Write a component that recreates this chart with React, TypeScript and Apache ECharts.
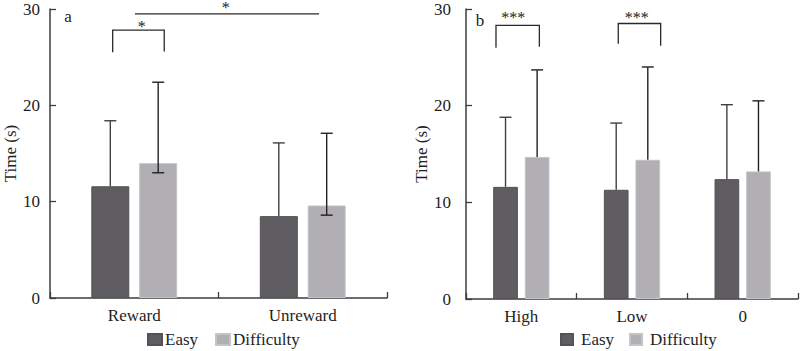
import React, { useEffect, useRef } from 'react';
import * as echarts from 'echarts';

// ---- data ----
const categoriesA = ['Reward', 'Unreward'];
const easyA = [11.6, 8.5];
const difficultyA = [14.0, 9.6];
const easyAHigh = [18.4, 16.1];
const difficultyAHigh = [22.4, 17.1];
const difficultyALow = [13.0, 8.6];

const categoriesB = ['High', 'Low', '0'];
const easyB = [11.6, 11.3, 12.4];
const difficultyB = [14.7, 14.4, 13.2];
const easyBHigh = [18.8, 18.2, 20.1];
const difficultyBHigh = [23.7, 24.0, 20.5];

const yMin = 0;
const yMax = 30;
const yInterval = 10;
const legendNames = ['Easy', 'Difficulty'];
const yAxisName = 'Time (s)';

// significance annotations: category index + fraction of band, values on y scale
const bracketsA = [{ cat: 0, from: -0.128, toCat: 0, to: 0.178, top: 27.8, legL: 25.5, legR: 25.6 }];
const barLinesA = [{ cat: 0, from: 0.004, toCat: 1, to: 0.097, top: 29.5 }];
const starsA = [
  { cat: 0, frac: 0.044, y: 28.2, text: '*' },
  { cat: 0, frac: 0.543, y: 30.2, text: '*' },
];
const bracketsB = [
  { cat: 0, from: -0.229, toCat: 0, to: 0.163, top: 28.3, legL: 26.0, legR: 26.1 },
  { cat: 1, from: -0.124, toCat: 1, to: 0.259, top: 28.5, legL: 26.4, legR: 26.2 },
];
const starsB = [
  { cat: 0, frac: -0.072, y: 29.1, text: '***' },
  { cat: 1, frac: 0.042, y: 29.1, text: '***' },
];

const FONT = "'Liberation Serif', serif";
const EASY = '#5f5d61';
const DIFF = '#b1afb4';
const AXIS = '#3c3c3c';
const TEXT = '#1e1e1e';

const BW_A = 0.2255;
const GAP_A = 0.26;
const BW_B = 0.223;
const GAP_B = 0.28;

function errorSeries(
  grid: number,
  means: number[],
  highs: number[],
  lows: number[] | null,
  side: number,
  bw: number,
  gap: number,
  color: string
) {
  return {
    type: 'custom',
    name: 'err' + grid + side,
    xAxisIndex: grid,
    yAxisIndex: grid,
    z: 10,
    silent: true,
    data: means.map((m, i) => [i, lows ? lows[i] : m, highs[i], lows ? 1 : 0]),
    encode: { x: 0, y: [1, 2] },
    renderItem: (_p: any, api: any) => {
      const c = api.value(0);
      const lo = api.coord([c, api.value(1)]);
      const hi = api.coord([c, api.value(2)]);
      const band = api.size([1, 0])[0];
      const x = lo[0] + (side * band * bw * (1 + gap)) / 2;
      const cap = 6;
      const st = { stroke: color, lineWidth: 1.4 };
      const children: any[] = [
        { type: 'line', shape: { x1: x, y1: lo[1], x2: x, y2: hi[1] }, style: st },
        { type: 'line', shape: { x1: x - cap, y1: hi[1], x2: x + cap, y2: hi[1] }, style: st },
      ];
      if (api.value(3)) {
        children.push({ type: 'line', shape: { x1: x - cap, y1: lo[1], x2: x + cap, y2: lo[1] }, style: st });
      }
      return { type: 'group', children };
    },
  };
}

function barSeries(grid: number, name: string, values: number[], color: string, border: string, bw: number, gap: number) {
  return {
    type: 'bar',
    name,
    xAxisIndex: grid,
    yAxisIndex: grid,
    data: values,
    barWidth: (bw * 100).toFixed(2) + '%',
    barGap: (gap * 100).toFixed(0) + '%',
    itemStyle: { color, borderColor: border, borderWidth: 1 },
  };
}

function xAxis(grid: number, cats: string[]) {
  return {
    type: 'category',
    gridIndex: grid,
    data: cats,
    axisLine: { lineStyle: { color: AXIS, width: 1.5 } },
    axisTick: { show: true, inside: true, length: 6, interval: 0, lineStyle: { color: AXIS, width: 1.3 } },
    axisLabel: { color: TEXT, fontFamily: FONT, fontSize: 17, margin: 9, interval: 0 },
  };
}

function yAxis(grid: number, labelMargin: number, nameGap: number) {
  return {
    type: 'value',
    gridIndex: grid,
    min: yMin,
    max: yMax,
    interval: yInterval,
    name: yAxisName,
    nameLocation: 'middle',
    nameGap,
    nameTextStyle: { color: TEXT, fontFamily: FONT, fontSize: 17 },
    splitLine: { show: false },
    axisLine: { show: true, lineStyle: { color: AXIS, width: 1.5 } },
    axisTick: { show: true, inside: true, length: 6, lineStyle: { color: AXIS, width: 1.3 } },
    axisLabel: { color: TEXT, fontFamily: FONT, fontSize: 17, margin: labelMargin },
  };
}

export default function App() {
  const ref = useRef<HTMLDivElement>(null);
  useEffect(() => {
    if (!ref.current) return;
    const chart = echarts.init(ref.current, undefined, { renderer: 'svg' });
    chart.setOption({
      animation: false,
      backgroundColor: '#ffffff',
      textStyle: { fontFamily: FONT },
      grid: [
        { left: 50, right: 413, top: 9, bottom: 53 },
        { left: 466, right: 2, top: 9, bottom: 52 },
      ],
      xAxis: [xAxis(0, categoriesA), xAxis(1, categoriesB)],
      yAxis: [yAxis(0, 10, 30), yAxis(1, 15, 33)],
      legend: [
        {
          data: legendNames,
          left: 147,
          top: 331,
          padding: 0,
          icon: 'rect',
          itemWidth: 14,
          itemHeight: 11,
          itemGap: 17,
          selectedMode: false,
          textStyle: { color: TEXT, fontFamily: FONT, fontSize: 17, padding: [0, 0, 0, -2] },
        },
        {
          data: legendNames,
          left: 560,
          top: 331,
          padding: 0,
          icon: 'rect',
          itemWidth: 12,
          itemHeight: 11,
          itemGap: 15,
          selectedMode: false,
          textStyle: { color: TEXT, fontFamily: FONT, fontSize: 17, padding: [0, 0, 0, 3] },
        },
      ],
      series: [
        barSeries(0, 'Easy', easyA, EASY, '#545256', BW_A, GAP_A),
        barSeries(0, 'Difficulty', difficultyA, DIFF, '#c4c3c7', BW_A, GAP_A),
        barSeries(1, 'Easy', easyB, EASY, '#545256', BW_B, GAP_B),
        barSeries(1, 'Difficulty', difficultyB, DIFF, '#c4c3c7', BW_B, GAP_B),
        errorSeries(0, easyA, easyAHigh, null, -1, BW_A, GAP_A, '#404040'),
        errorSeries(0, difficultyA, difficultyAHigh, difficultyALow, 1, BW_A, GAP_A, '#222222'),
        errorSeries(1, easyB, easyBHigh, null, -1, BW_B, GAP_B, '#404040'),
        errorSeries(1, difficultyB, difficultyBHigh, null, 1, BW_B, GAP_B, '#222222'),
      ],
    });

    const toPx = (g: number, cat: number, frac: number, val: number) => {
      const p0 = chart.convertToPixel({ gridIndex: g } as any, [0, val]) as number[];
      const p1 = chart.convertToPixel({ gridIndex: g } as any, [1, val]) as number[];
      const band = p1[0] - p0[0];
      return [p0[0] + (cat + frac) * band, p0[1]];
    };
    const lineStyle = { stroke: '#2a2a2a', lineWidth: 1.3, fill: 'none' };
    const graphics: any[] = [];
    const addBrackets = (g: number, list: any[]) => {
      list.forEach((b) => {
        const tl = toPx(g, b.cat, b.from, b.top);
        const tr = toPx(g, b.toCat, b.to, b.top);
        const bl = toPx(g, b.cat, b.from, b.legL);
        const br = toPx(g, b.toCat, b.to, b.legR);
        graphics.push({
          type: 'polyline',
          shape: { points: [bl, tl, tr, br] },
          style: lineStyle,
        });
      });
    };
    const addLines = (g: number, list: any[]) => {
      list.forEach((b) => {
        const a = toPx(g, b.cat, b.from, b.top);
        const c = toPx(g, b.toCat, b.to, b.top);
        graphics.push({ type: 'line', shape: { x1: a[0], y1: a[1], x2: c[0], y2: c[1] }, style: lineStyle });
      });
    };
    const addStars = (g: number, list: any[]) => {
      list.forEach((s) => {
        const p = toPx(g, s.cat, s.frac, s.y);
        graphics.push({
          type: 'text',
          x: p[0],
          y: p[1],
          style: { text: s.text, fill: TEXT, fontFamily: FONT, fontSize: 16, align: 'center', verticalAlign: 'middle' },
        });
      });
    };
    addBrackets(0, bracketsA);
    addLines(0, barLinesA);
    addStars(0, starsA);
    addBrackets(1, bracketsB);
    addStars(1, starsB);
    graphics.push({
      type: 'text',
      x: 68,
      y: 16,
      style: { text: 'a', fill: TEXT, fontFamily: FONT, fontSize: 17, align: 'center', verticalAlign: 'middle' },
    });
    graphics.push({
      type: 'text',
      x: 480,
      y: 20,
      style: { text: 'b', fill: TEXT, fontFamily: FONT, fontSize: 17, align: 'center', verticalAlign: 'middle' },
    });
    chart.setOption({ graphic: graphics });

    return () => chart.dispose();
  }, []);
  return <div ref={ref} style={{ width: 800, height: 351, position: 'absolute', left: 0, top: 0 }} />;
}
